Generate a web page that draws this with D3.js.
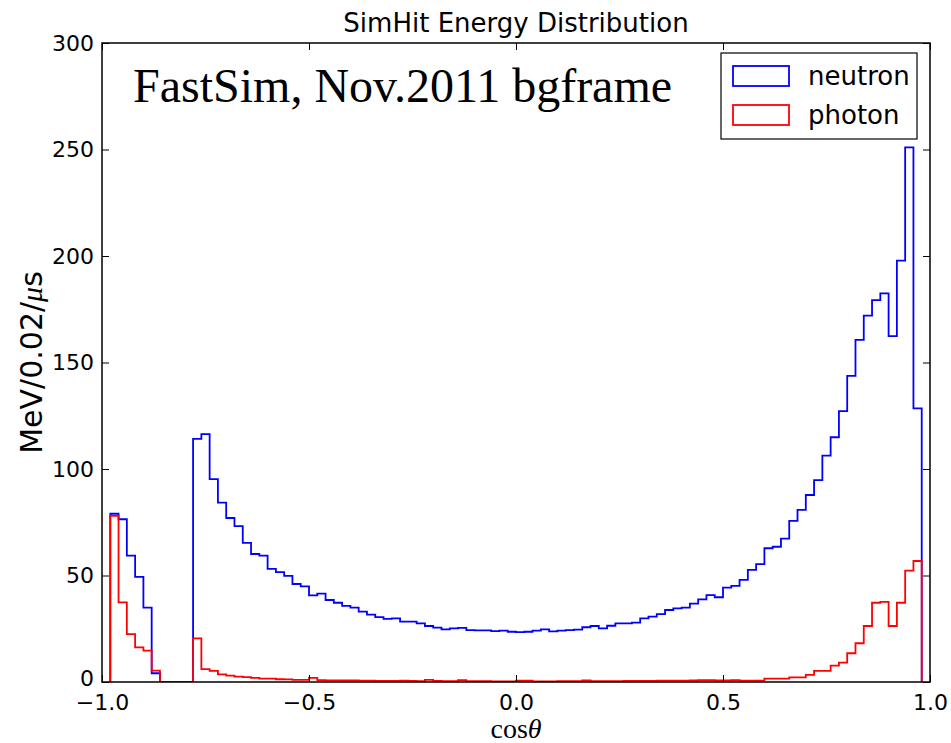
<!DOCTYPE html>
<html>
<head>
<meta charset="utf-8">
<script src="https://cdn.jsdelivr.net/npm/d3@7"></script>
<style>
    body { margin: 0; background: #fff; }
    text { font-family: "DejaVu Sans", sans-serif; }
</style>
</head>
<body>
<div id="chart"></div>
<script>
// histogram binning (cos theta), 0.02 wide bins from -0.98 to 0.98
let binStart = -0.98;
let binWidth = 0.02;

// MeV / 0.02 / us per bin
let neutron = [
    79, 76.4, 59.3, 49.4, 34.9, 4.1, 0, 0, 0, 0,
    114.1, 116.4, 95.2, 84.2, 77.0, 73.2, 65.3, 60.1, 59.3, 53.1,
    51.6, 49.8, 46.0, 44.9, 40.7, 41.5, 38.5, 37.2, 35.7, 34.9,
    33.0, 31.6, 30.5, 29.6, 29.9, 28.3, 28.3, 27.5, 26.3, 25.5,
    24.7, 25.2, 25.4, 24.4, 24.2, 24.2, 23.9, 24.1, 23.6, 23.4,
    23.6, 24.1, 24.7, 23.8, 24.1, 24.4, 24.6, 25.7, 26.3, 25.2,
    26.4, 27.5, 27.5, 27.9, 29.9, 30.7, 31.9, 33.8, 34.6, 34.9,
    36.8, 38.8, 40.8, 39.8, 44.3, 45.1, 47.9, 52.6, 55.3, 62.8,
    63.5, 67.3, 75.6, 80.8, 87.8, 94.8, 106.3, 114.9, 127.2, 143.7,
    160.6, 172, 179.3, 182.5, 162.4, 197.8, 251, 128.5
];

let photon = [
    78, 37.4, 22.5, 16.3, 14.7, 5.3, 0, 0, 0, 0,
    20.5, 6.0, 5.2, 3.6, 3.0, 2.5, 2.3, 1.9, 1.6, 1.6,
    1.3, 1.2, 1.0, 1.0, 1.9, 0.9, 0.8, 0.8, 0.7, 0.7,
    0.6, 0.6, 0.5, 0.5, 0.5, 0.6, 0.5, 0.4, 1.0, 0.5,
    0.4, 0.4, 0.9, 0.4, 0.4, 0.4, 0.3, 0.3, 0.3, 0.6,
    0.6, 0.3, 0.3, 0.3, 0.4, 0.4, 0.4, 0.7, 0.4, 0.4,
    0.4, 0.4, 0.5, 0.5, 0.5, 0.5, 0.6, 0.6, 0.6, 0.6,
    0.7, 0.9, 0.9, 0.7, 0.8, 0.9, 0.6, 0.6, 0.6, 1.6,
    1.6, 1.6, 2.2, 2.2, 3.3, 5.2, 5.2, 7.7, 9.1, 13.5,
    18.2, 26.3, 37.2, 37.6, 26.3, 37.2, 52.3, 56.8
];

let xTicks = [-1.0, -0.5, 0.0, 0.5, 1.0];
let yTicks = [0, 50, 100, 150, 200, 250, 300];
let seriesNames = ["neutron", "photon"];
let seriesColors = ["#0000ff", "#ff0000"];

let W = 951, H = 743;
let margin = {top: 43, right: 21, bottom: 61, left: 102};
let width = W - margin.left - margin.right;
let height = H - margin.top - margin.bottom;

let svg = d3.select("#chart")
    .append("svg")
    .attr("width", W)
    .attr("height", H);

let g = svg.append("g")
    .attr("transform", `translate(${margin.left},${margin.top})`);

let x = d3.scaleLinear().domain([-1, 1]).range([0, width]);
let y = d3.scaleLinear().domain([0, 300]).range([height, 0]);

let fmtMinus = d => d3.format(".1f")(d).replace("-", "\u2212");

// step outline, like histtype='step'
function stepPoints(values) {
    let pts = [[binStart, 0]];
    values.forEach((v, i) => pts.push([binStart + i * binWidth, v]));
    pts.push([binStart + values.length * binWidth, 0]);
    return pts;
}

let line = d3.line()
    .x(d => x(d[0]))
    .y(d => y(d[1]))
    .curve(d3.curveStepAfter);

g.append("defs").append("clipPath").attr("id", "clip")
    .append("rect").attr("width", width).attr("height", height);

[neutron, photon].forEach((vals, i) => {
    g.append("path")
        .attr("clip-path", "url(#clip)")
        .attr("d", line(stepPoints(vals)))
        .attr("fill", "none")
        .attr("stroke", seriesColors[i])
        .attr("stroke-width", 1.8);
});

// axes, ticks point inward on all four sides
let tickLen = 7;
let axisStyle = sel => {
    sel.select(".domain").remove();
    sel.selectAll("text").style("font-size", "22px").attr("fill", "#000");
    sel.selectAll("line").attr("stroke", "#000").attr("stroke-width", 1);
};

g.append("g")
    .attr("transform", `translate(0,${height})`)
    .call(d3.axisBottom(x).tickValues(xTicks).tickFormat(fmtMinus).tickSizeInner(-tickLen).tickPadding(12))
    .call(axisStyle);

g.append("g")
    .call(d3.axisTop(x).tickValues(xTicks).tickFormat("").tickSizeInner(-tickLen))
    .call(axisStyle);

let yAxisG = g.append("g")
    .call(d3.axisLeft(y).tickValues(yTicks).tickFormat(d3.format("d")).tickSizeInner(-tickLen).tickPadding(8))
    .call(axisStyle);

// lift the "0" slightly so it clears the "−1.0" below it
yAxisG.selectAll(".tick text")
    .filter(d => d === 0)
    .attr("y", -4);

g.append("g")
    .attr("transform", `translate(${width},0)`)
    .call(d3.axisRight(y).tickValues(yTicks).tickFormat("").tickSizeInner(-tickLen))
    .call(axisStyle);

g.append("rect")
    .attr("width", width)
    .attr("height", height)
    .attr("fill", "none")
    .attr("stroke", "#000")
    .attr("stroke-width", 1.5);

// title and labels
svg.append("text")
    .attr("x", margin.left + width / 2)
    .attr("y", 32)
    .attr("text-anchor", "middle")
    .style("font-size", "26px")
    .text("SimHit Energy Distribution");

g.append("text")
    .attr("x", 31)
    .attr("y", 59)
    .style("font-family", "'Liberation Serif', serif")
    .style("font-size", "48px")
    .text("FastSim, Nov.2011 bgframe");

let xl = svg.append("text")
    .attr("x", margin.left + width / 2)
    .attr("y", 738)
    .attr("text-anchor", "middle")
    .style("font-family", "'Liberation Serif', serif")
    .style("font-size", "28px");
xl.append("tspan").text("cos");
xl.append("tspan").style("font-style", "italic").text("\u03b8");

let yl = svg.append("text")
    .attr("transform", `translate(42,${margin.top + height / 2}) rotate(-90)`)
    .attr("text-anchor", "middle")
    .style("font-size", "30px");
yl.append("tspan").text("MeV/0.02/");
yl.append("tspan").style("font-family", "'Liberation Serif', serif").style("font-style", "italic").text("\u03bc");
yl.append("tspan").text("s");

// legend
let legend = g.append("g")
    .attr("transform", `translate(${width - 209},10)`);

legend.append("rect")
    .attr("width", 196)
    .attr("height", 86)
    .attr("fill", "#fff")
    .attr("stroke", "#000")
    .attr("stroke-width", 1.2);

seriesNames.forEach((name, i) => {
    let row = legend.append("g").attr("transform", `translate(12,${13 + i * 39})`);
    row.append("rect")
        .attr("width", 56)
        .attr("height", 20)
        .attr("fill", "none")
        .attr("stroke", seriesColors[i])
        .attr("stroke-width", 1.8);
    row.append("text")
        .attr("x", 75)
        .attr("y", 19)
        .style("font-size", "26px")
        .text(name);
});
</script>
</body>
</html>
